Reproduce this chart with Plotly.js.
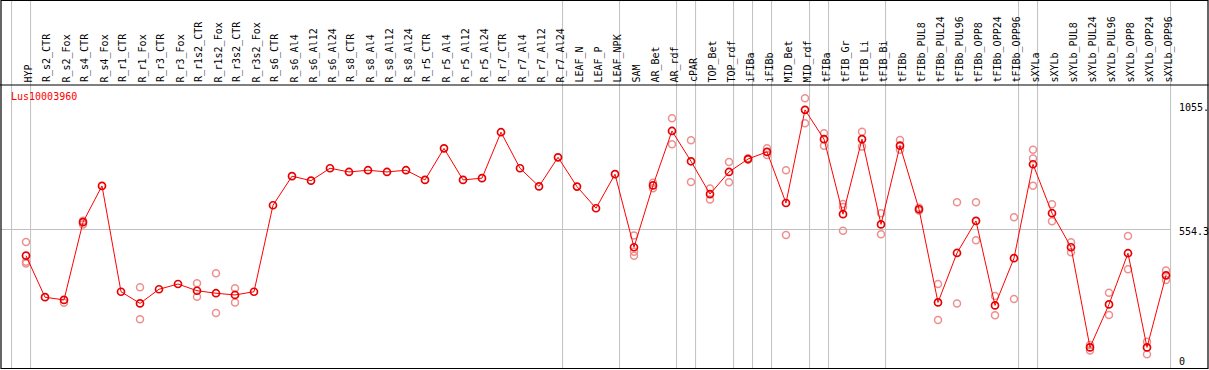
<!DOCTYPE html>
<html>
<head>
<meta charset="utf-8">
<script src="https://cdn.plot.ly/plotly-3.0.1.min.js"></script>
<style>html,body{margin:0;padding:0;background:#fff;}#chart{width:1209px;height:370px;}</style>
</head>
<body>
<div id="chart"></div>
<script>
// ---- data ----
const geneName = "Lus10003960";
const categories = ["HYP","R_s2_CTR","R_s2_Fox","R_s4_CTR","R_s4_Fox","R_r1_CTR","R_r1_Fox","R_r3_CTR","R_r3_Fox","R_r1s2_CTR","R_r1s2_Fox","R_r3s2_CTR","R_r3s2_Fox","R_s6_CTR","R_s6_Al4","R_s6_Al12","R_s6_Al24","R_s8_CTR","R_s8_Al4","R_s8_Al12","R_s8_Al24","R_r5_CTR","R_r5_Al4","R_r5_Al12","R_r5_Al24","R_r7_CTR","R_r7_Al4","R_r7_Al12","R_r7_Al24","LEAF_N","LEAF_P","LEAF_NPK","SAM","AR_Bet","AR_rdf","cPAR","TOP_Bet","TOP_rdf","iFIBa","iFIBb","MID_Bet","MID_rdf","tFIBa","tFIB_Gr","tFIB_Li","tFIB_Bi","tFIBb","tFIBb_PUL8","tFIBb_PUL24","tFIBb_PUL96","tFIBb_OPP8","tFIBb_OPP24","tFIBb_OPP96","sXYLa","sXYLb","sXYLb_PUL8","sXYLb_PUL24","sXYLb_PUL96","sXYLb_OPP8","sXYLb_OPP24","sXYLb_OPP96"];
const meanValues = [448,281,270,583,729,303,256,313,334,307,297,290,303,651,768,750,800,785,792,785,792,753,880,753,760,945,800,727,844,726,639,776,482,731,950,828,696,785,837,866,660,1035,917,615,917,574,891,635,260,459,588,248,438,816,619,482,79,252,458,79,369];
const repA = [503,null,259,589,null,null,321,null,null,337,377,317,null,null,null,null,null,null,null,null,null,null,null,null,null,null,null,null,null,null,null,null,529,742,1001,913,718,825,840,880,792,1082,941,656,947,619,914,641,334,663,663,286,603,874,655,502,89,299,527,102,388];
const repB = [417,null,null,574,null,null,192,null,null,283,217,260,null,null,null,null,null,null,null,null,null,null,null,null,null,null,null,null,null,null,null,null,464,719,897,745,674,744,834,853,531,981,891,644,887,534,874,630,189,256,510,208,274,839,587,462,66,209,393,51,350];
const repC = [424,null,null,null,null,null,null,null,null,null,null,null,null,null,null,null,null,null,null,null,null,null,null,null,null,null,null,null,null,null,null,null,448,null,null,null,null,null,null,null,null,null,null,548,null,null,null,null,null,null,null,null,null,730,null,null,null,null,null,null,null];
const groupEnds = [-1,0,28,31,34,35,37,38,39,41,42,45,52,53,60];
const yTickVals = [1055,554.3,0];
const yTickText = ["1055.","554.3","0"];

// ---- layout geometry ----
const W = 1209, H = 370;
const M = {l:1, r:38, t:85, b:1};
const PW = W - M.l - M.r, PH = H - M.t - M.b;
const px2x = p => (p - M.l) / PW;
const py2y = p => 1 - (p - M.t) / PH;
const xRange = [-1.316, 60.263];
const idx2paper = i => (i - xRange[0]) / (xRange[1] - xRange[0]);

const idx = categories.map((c,i)=>i);
const rx = [], ry = [];
[repA, repB, repC].forEach(arr => arr.forEach((v,i) => { if (v !== null) { rx.push(i); ry.push(v); } }));

const mono = "DejaVu Sans Mono, monospace";

const traces = [
  {x: rx, y: ry, type:'scatter', mode:'markers', hoverinfo:'skip',
   marker:{symbol:'circle-open', size:7, color:'#ee8f8f', line:{width:1.5, color:'#ee8f8f'}}},
  {x: idx, y: meanValues, type:'scatter', mode:'lines+markers',
   line:{color:'#ff0000', width:1},
   marker:{symbol:'circle-open', size:7, color:'#e80000', line:{width:1.7, color:'#e80000'}}}
];

const shapes = [];
groupEnds.forEach(b => {
  const xp = idx2paper(b + 0.24);
  shapes.push({type:'line', xref:'paper', yref:'paper', x0:xp, x1:xp, y0:py2y(369), y1:py2y(0), line:{color:'#c0c0c0', width:1}, layer:'below'});
});
shapes.push({type:'line', xref:'paper', yref:'paper', x0:px2x(0), x1:px2x(1208.5), y0:py2y(85), y1:py2y(85), line:{color:'#000', width:1.2}});
shapes.push({type:'rect', xref:'paper', yref:'paper', x0:px2x(1), x1:px2x(1208), y0:py2y(368.5), y1:py2y(0.5), line:{color:'#000', width:1.2}});

const annotations = [
  {text: geneName, xref:'paper', yref:'paper', x:px2x(9), y:py2y(97), xanchor:'left', yanchor:'middle', showarrow:false, font:{family:mono, size:10, color:'#ff0000'}}
];
categories.forEach((c,i) => annotations.push({text:c, xref:'x', yref:'paper', x:i, xshift:2, y:py2y(83.5), xanchor:'center', yanchor:'bottom', textangle:-90, borderpad:0, showarrow:false, font:{family:mono, size:10, color:'#000'}}));
const yShifts = [-2.8, -2.7, 6];
yTickVals.forEach((v,k) => annotations.push({text: yTickText[k], xref:'paper', yref:'y', x:px2x(1177), y:v, yshift:yShifts[k], xanchor:'left', yanchor:'middle', showarrow:false, font:{family:mono, size:10, color:'#000'}}));

const layout = {
  width: W, height: H, margin: M,
  paper_bgcolor:'#fff', plot_bgcolor:'rgba(0,0,0,0)',
  showlegend:false,
  xaxis:{range:xRange, showticklabels:false, showgrid:false, zeroline:false, showline:false, ticks:'', automargin:false, fixedrange:true},
  yaxis:{range:[-8,1135], tickmode:'array', tickvals:[554.3], showticklabels:false, showgrid:true, gridcolor:'#c0c0c0', gridwidth:1,
         zeroline:false, showline:false, ticks:'', automargin:false, fixedrange:true},
  shapes: shapes,
  annotations: annotations
};
Plotly.newPlot('chart', traces, layout, {staticPlot:true, displayModeBar:false});
</script>
</body>
</html>
